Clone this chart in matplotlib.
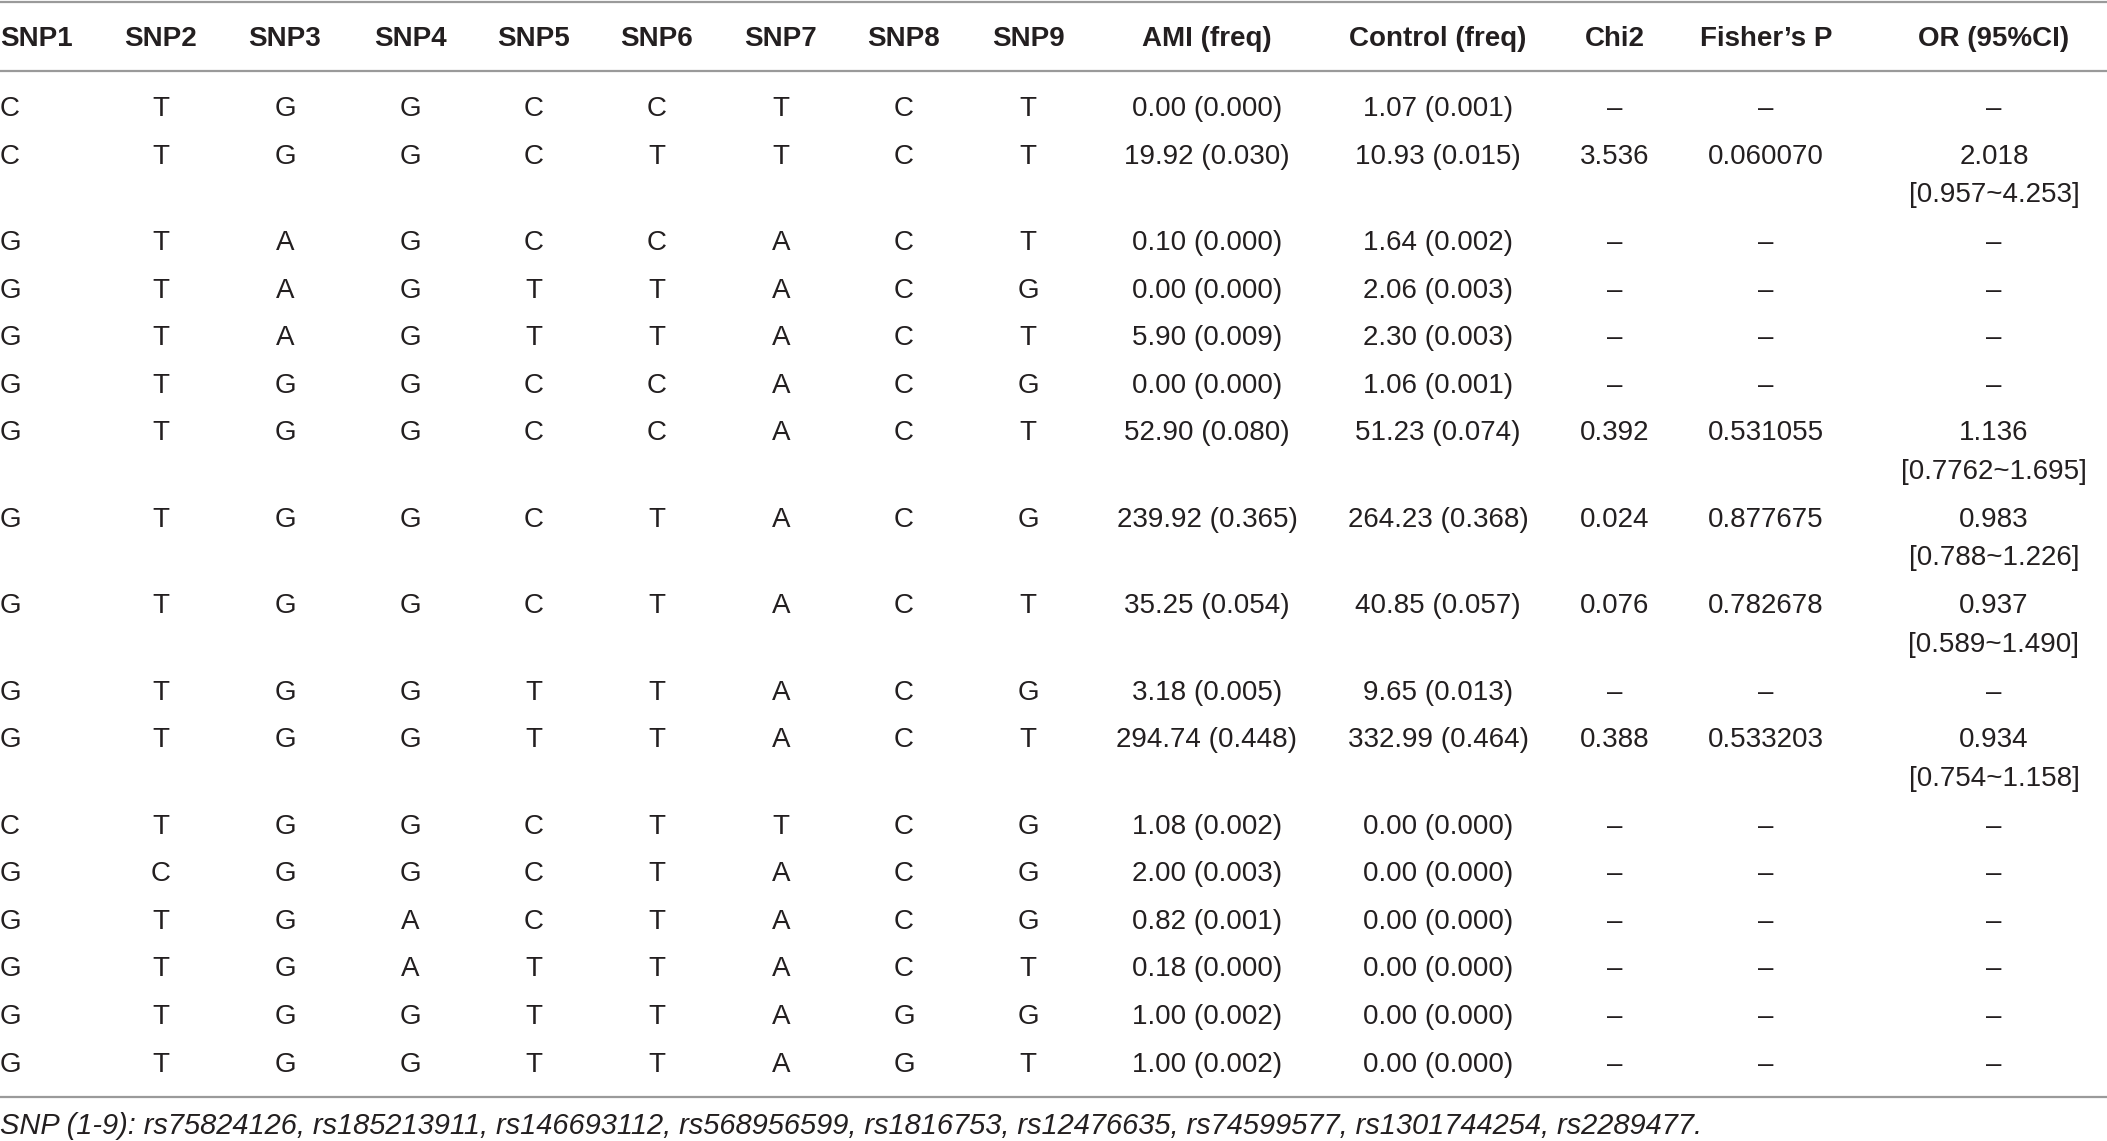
import matplotlib
matplotlib.use("Agg")
import matplotlib.pyplot as plt

plt.rcParams['font.family'] = ['Liberation Sans', 'DejaVu Sans']

headers = ["SNP1", "SNP2", "SNP3", "SNP4", "SNP5", "SNP6", "SNP7", "SNP8", "SNP9",
           "AMI (freq)", "Control (freq)", "Chi2", "Fisher\u2019s P", "OR (95%CI)"]

haplotypes = [
    "CTGGCCTCT", "CTGGCTTCT", "GTAGCCACT", "GTAGTTACG", "GTAGTTACT",
    "GTGGCCACG", "GTGGCCACT", "GTGGCTACG", "GTGGCTACT", "GTGGTTACG",
    "GTGGTTACT", "CTGGCTTCG", "GCGGCTACG", "GTGACTACG", "GTGATTACT",
    "GTGGTTAGG", "GTGGTTAGT",
]
ami_freq = ["0.00 (0.000)", "19.92 (0.030)", "0.10 (0.000)", "0.00 (0.000)", "5.90 (0.009)",
            "0.00 (0.000)", "52.90 (0.080)", "239.92 (0.365)", "35.25 (0.054)", "3.18 (0.005)",
            "294.74 (0.448)", "1.08 (0.002)", "2.00 (0.003)", "0.82 (0.001)", "0.18 (0.000)",
            "1.00 (0.002)", "1.00 (0.002)"]
control_freq = ["1.07 (0.001)", "10.93 (0.015)", "1.64 (0.002)", "2.06 (0.003)", "2.30 (0.003)",
                "1.06 (0.001)", "51.23 (0.074)", "264.23 (0.368)", "40.85 (0.057)", "9.65 (0.013)",
                "332.99 (0.464)", "0.00 (0.000)", "0.00 (0.000)", "0.00 (0.000)", "0.00 (0.000)",
                "0.00 (0.000)", "0.00 (0.000)"]
D = "\u2013"
chi2 = [D, "3.536", D, D, D, D, "0.392", "0.024", "0.076", D, "0.388", D, D, D, D, D, D]
fisher_p = [D, "0.060070", D, D, D, D, "0.531055", "0.877675", "0.782678", D, "0.533203", D, D, D, D, D, D]
odds_ratio = [D, "2.018\n[0.957~4.253]", D, D, D, D, "1.136\n[0.7762~1.695]", "0.983\n[0.788~1.226]",
              "0.937\n[0.589~1.490]", D, "0.934\n[0.754~1.158]", D, D, D, D, D, D]
footnote = ("SNP (1-9): rs75824126, rs185213911, rs146693112, rs568956599, rs1816753, "
            "rs12476635, rs74599577, rs1301744254, rs2289477.")

W, H = 2107, 1141
fig = plt.figure(figsize=(W / 100, H / 100), dpi=100)
ax = fig.add_axes([0, 0, 1, 1])
ax.set_xlim(0, W)
ax.set_ylim(H, 0)
ax.axis("off")

col_x = [0, 161, 285, 410, 534, 657, 781, 904, 1028, 1207, 1438, 1615, 1766, 1994]
col_ha = ["left"] + ["center"] * 13
fs = 20
cap_half = 10
line_gap = 38.5
txt_color = "#231f20"
rule_color = "#9a9a9a"

# rules
for yy in (1.5, 71, 1097):
    ax.plot([0, W], [yy, yy], color=rule_color, lw=1.6, solid_capstyle="butt")

# header
for x, ha, h in zip(col_x, col_ha, headers):
    ax.text(x, 36 + cap_half, h, ha=ha, va="baseline", fontsize=fs, fontweight="bold",
            color=txt_color)

y = 106
for i, hap in enumerate(haplotypes):
    cells = list(hap) + [ami_freq[i], control_freq[i], chi2[i], fisher_p[i], odds_ratio[i]]
    nlines = 1
    for x, ha, c in zip(col_x, col_ha, cells):
        parts = c.split("\n")
        nlines = max(nlines, len(parts))
        for k, p in enumerate(parts):
            ax.text(x, y + cap_half + k * line_gap, p, ha=ha, va="baseline", fontsize=fs,
                    color=txt_color)
    y += 47.6 + 38.8 * (nlines - 1)

ax.text(0, 1124 + cap_half, footnote, ha="left", va="baseline", fontsize=20.9, style="italic",
        color=txt_color)

fig.savefig("out.png", dpi=100)
